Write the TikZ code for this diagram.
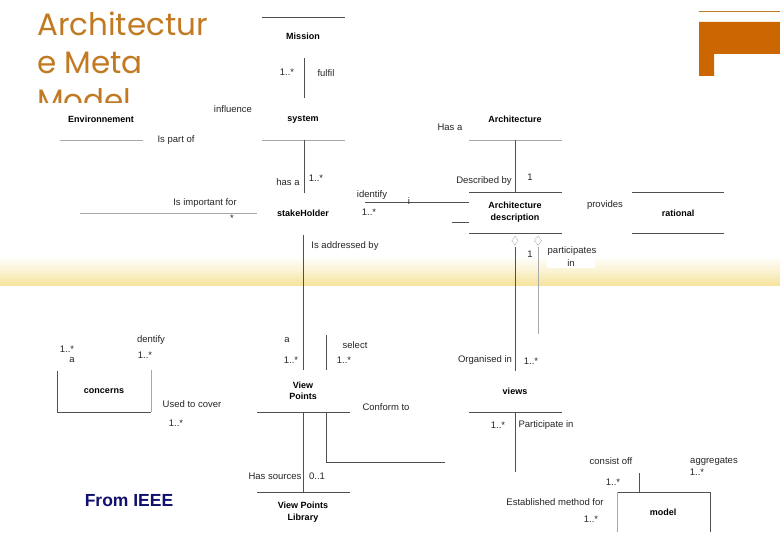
\documentclass[tikz,border=0pt]{standalone}
\usepackage{fontspec}
\setmainfont{Liberation Sans}
\newfontfamily\titlefont{Poppins}
\definecolor{titleor}{HTML}{C27A22}
\definecolor{blockor}{HTML}{CC6600}
\definecolor{lndark}{HTML}{505050}
\definecolor{lnlight}{HTML}{A8A8A8}
\definecolor{bandyel}{HTML}{F5E29A}
\definecolor{ieee}{HTML}{10106E}
\begin{document}
\begin{tikzpicture}[x=1pt,y=-1pt,
  lbl/.style={font=\fontsize{9.5}{10}\selectfont, inner sep=0pt, text=black!85},
  cls/.style={font=\fontsize{9}{11.5}\selectfont\bfseries, inner sep=0pt, align=center},
  dk/.style={draw=lndark, line width=0.9pt},
  lt/.style={draw=lnlight, line width=0.8pt},
  ttl/.style={anchor=base west, text=titleor, inner sep=0pt, font=\fontsize{31}{36}\titlefont}]
\useasboundingbox (0,0) rectangle (780,540);
\fill[white] (0,0) rectangle (780,540);

% title
\node[ttl] (t1) at (37,36) {Architectur};
\node[ttl] (t2) at (37,74) {e Meta};
\node[ttl] (t3) at (37,112) {Model};
\fill[white] (28,103) rectangle (258,150);

% top-right decoration
\draw[draw=titleor, line width=0.8pt] (699,11) -- (780,11);
\fill[blockor] (699,22) -- (780,22) -- (780,54) -- (714,54) -- (714,76) -- (699,76) -- cycle;

% yellow band
\shade[top color=white, bottom color=bandyel, middle color=bandyel!45] (0,256) rectangle (780,286);

% class names
\node[cls] (mission) at (303,36) {Mission};
\node[cls] (env) at (101,119) {Environnement};
\node[cls] (system) at (303,120) {system};
\node[cls] (arch) at (515,119) {Architecture};
\node[cls] (stake) at (303,213) {stakeHolder};
\node[cls] (archdesc) at (515,212) {Architecture\\description};
\node[cls] (rational) at (678,213) {rational};
\node[cls] (concerns) at (104,391) {concerns};
\node[cls] (viewpoints) at (303,391) {View\\Points};
\node[cls] (views) at (515,391) {views};
\node[cls] (vplib) at (303,512) {View Points\\Library};
\node[cls] (model) at (663,512) {model};
\node[font=\fontsize{17.5}{20}\selectfont\bfseries, text=ieee, inner sep=0pt] (ieee) at (129,501) {From IEEE};

% coordinates
\coordinate (m1) at (304,58); \coordinate (m2) at (304,98);
\coordinate (s1) at (304,140); \coordinate (s2) at (304,193);
\coordinate (a1) at (515,140); \coordinate (a2) at (515,192);
\coordinate (i1) at (365,202); \coordinate (i2) at (469,202);
\coordinate (sh1) at (303,235); \coordinate (sh2) at (303,370);
\coordinate (sel1) at (326,335); \coordinate (sel2) at (326,370);
\coordinate (d1) at (515,236); \coordinate (d2) at (538,236);
\coordinate (o1) at (515,247); \coordinate (o2) at (515,371);
\coordinate (p1) at (538,247); \coordinate (p2) at (538,334);
\coordinate (vp1) at (303,412); \coordinate (vp2) at (303,492);
\coordinate (c1) at (326,412); \coordinate (c2) at (326,462); \coordinate (c3) at (445,462);
\coordinate (v1) at (515,412); \coordinate (v2) at (515,472);
\coordinate (md1) at (639,473); \coordinate (md2) at (639,492);

% box fragments
\draw[dk] (262,17) -- (345,17);
\draw[lt] (60,140) -- (143,140);
\draw[lt] (262,140) -- (345,140);
\draw[lt] (469,140) -- (562,140);
\draw[dk] (469,192) -- (562,192);
\draw[dk] (469,233) -- (562,233);
\draw[dk] (452,222) -- (469,222);
\draw[dk] (632,192) -- (724,192);
\draw[dk] (632,233) -- (724,233);
\draw[lt] (80,213) -- (257,213);
\draw[dk] (57,371) -- (57,412) -- (151,412);
\draw[lt] (151,370) -- (151,412);
\draw[dk] (257,412) -- (350,412);
\draw[dk] (469,412) -- (562,412);
\draw[dk] (257,492) -- (350,492);
\draw[dk] (617,492) -- (710,492) -- (710,532);
\draw[lt] (617,492) -- (617,532);

% connectors
\draw[dk] (m1) -- (m2);
\draw[dk] (s1) -- (s2);
\draw[dk] (a1) -- (a2);
\draw[dk] (i1) -- (i2);
\draw[dk] (sh1) -- (sh2);
\draw[dk] (sel1) -- (sel2);
\draw[lt, densely dotted] (d1) -- ++(3,4.5) -- ++(-3,4.5) -- ++(-3,-4.5) -- cycle;
\draw[lt, densely dotted] (d2) -- ++(3.5,4.5) -- ++(-3.5,5) -- ++(-3.5,-5) -- cycle;
\draw[dk] (o1) -- (o2);
\draw[lt] (p1) -- (p2);
\draw[dk] (vp1) -- (vp2);
\draw[dk] (c1) -- (c2) -- (c3);
\draw[dk] (v1) -- (v2);
\draw[dk] (md1) -- (md2);

% labels
\node[lbl] (l1) at (287,72) {1..*};
\node[lbl] (l2) at (326,73) {fulfil};
\node[lbl] (l3) at (233,109) {influence};
\node[lbl] (l4) at (176,140) {Is part of};
\node[lbl] (l5) at (450,127) {Has a};
\node[lbl] (l6) at (288,182) {has a};
\node[lbl] (l7) at (316,178) {1..*};
\node[lbl] (l8) at (484,181) {Described by};
\node[lbl] (l9) at (530,177) {1};
\node[lbl] (l10) at (372,195) {identify};
\node[lbl] (l11) at (409,201) {i};
\node[lbl] (l12) at (369,212) {1..*};
\node[lbl] (l13) at (205,203) {Is important for};
\node[lbl] (l14) at (232,218) {*};
\node[lbl] (l15) at (605,205) {provides};
\node[lbl] (l16) at (345,246) {Is addressed by};
\node[lbl] (l17) at (530,254) {1};
\node[lbl] (l18) at (572,251) {participates};
\node[lbl, fill=white, minimum width=48pt, minimum height=10pt] (l19) at (571,263) {in};
\node[lbl] (l20) at (151,340) {dentify};
\node[lbl] (l21) at (67,349) {1..*};
\node[lbl] (l22) at (72,360) {a};
\node[lbl] (l23) at (145,355) {1..*};
\node[lbl] (l24) at (287,340) {a};
\node[lbl] (l25) at (355,345) {select};
\node[lbl] (l26) at (291,360) {1..*};
\node[lbl] (l27) at (344,360) {1..*};
\node[lbl] (l28) at (485,360) {Organised in};
\node[lbl] (l29) at (531,361) {1..*};
\node[lbl] (l30) at (192,404) {Used to cover};
\node[lbl] (l31) at (386,407) {Conform to};
\node[lbl] (l32) at (176,423) {1..*};
\node[lbl] (l33) at (498,425) {1..*};
\node[lbl] (l34) at (546,425) {Participate in};
\node[lbl] (l35) at (611,461) {consist off};
\node[lbl] (l36) at (714,461) {aggregates};
\node[lbl] (l37) at (697,472) {1..*};
\node[lbl] (l38) at (275,476) {Has sources};
\node[lbl] (l39) at (317,476) {0..1};
\node[lbl] (l40) at (613,482) {1..*};
\node[lbl] (l41) at (555,502) {Established method for};
\node[lbl] (l42) at (591,519) {1..*};
\end{tikzpicture}
\end{document}
